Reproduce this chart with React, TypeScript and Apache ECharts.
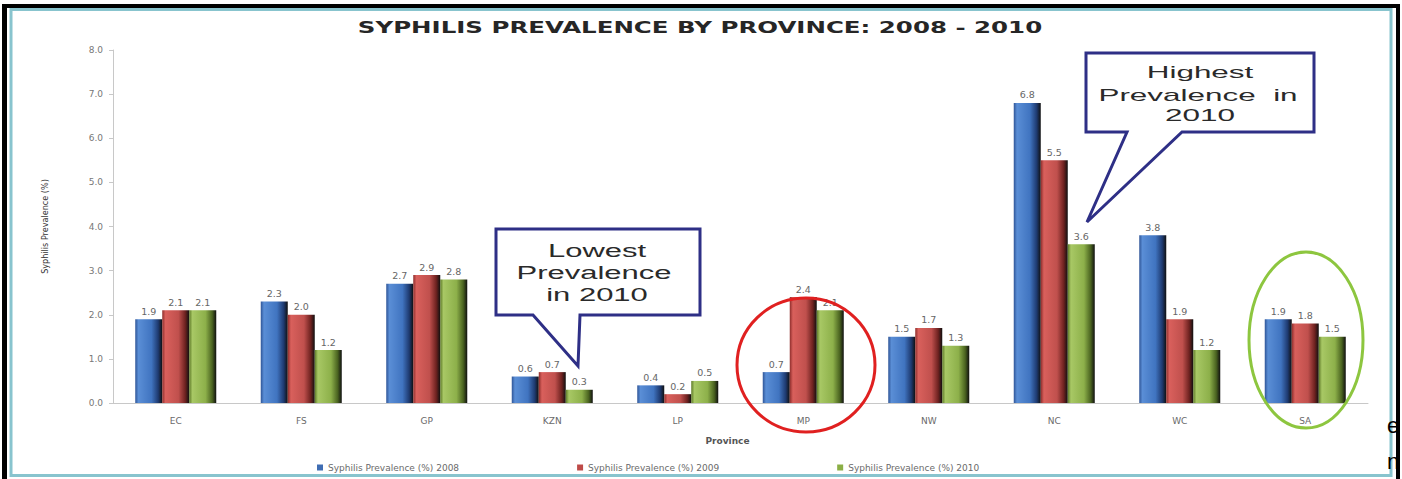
import React, { useEffect, useRef } from "react";
import * as echarts from "echarts";

const categories = ["EC", "FS", "GP", "KZN", "LP", "MP", "NW", "NC", "WC", "SA"];
const prevalence2008 = [1.9, 2.3, 2.7, 0.6, 0.4, 0.7, 1.5, 6.8, 3.8, 1.9];
const prevalence2009 = [2.1, 2.0, 2.9, 0.7, 0.2, 2.4, 1.7, 5.5, 1.9, 1.8];
const prevalence2010 = [2.1, 1.2, 2.8, 0.3, 0.5, 2.1, 1.3, 3.6, 1.2, 1.5];
const seriesNames = [
  "Syphilis Prevalence (%) 2008",
  "Syphilis Prevalence (%) 2009",
  "Syphilis Prevalence (%) 2010",
];
const titleText = "SYPHILIS PREVALENCE BY PROVINCE: 2008 - 2010";
const lowestLines = ["Lowest", "Prevalence", "in 2010"];
const highestLines = ["Highest", "Prevalence  in", "2010"];

const solidColors = ["#3F6DB3", "#BE4B48", "#8BAF45"];

function cyl(edge: string, light: string, main: string, dark: string) {
  return new echarts.graphic.LinearGradient(0, 0, 1, 0, [
    { offset: 0, color: edge },
    { offset: 0.12, color: light },
    { offset: 0.6, color: main },
    { offset: 0.85, color: dark },
    { offset: 1, color: "#101010" },
  ]);
}

export default function App() {
  const ref = useRef<HTMLDivElement>(null);
  useEffect(() => {
    document.body.style.margin = "0";
    if (!ref.current) return;
    const chart = echarts.init(ref.current, undefined, { renderer: "svg" });
    const colors = [
      cyl("#2F5597", "#5A8ED6", "#4074C0", "#1E3A70"),
      cyl("#8E2E2C", "#D9605C", "#C0504D", "#6E2220"),
      cyl("#5E7A28", "#A8C865", "#8DB04A", "#4A6320"),
    ];
    const data = [prevalence2008, prevalence2009, prevalence2010];
    const font = "DejaVu Sans";
    const textEl = (t: string, x: number, y: number, size: number, sx: number, extra: any = {}) => ({
      type: "text",
      x,
      y,
      scaleX: sx,
      z: 110,
      style: {
        text: t,
        fontSize: size,
        fontFamily: "Liberation Sans",
        fill: "#2a2a2a",
        align: "center",
        verticalAlign: "middle",
        ...extra,
      },
    });
    const option: any = {
      animation: false,
      backgroundColor: "#ffffff",
      grid: { left: 113, right: 34, top: 50, bottom: 76 },
      legend: {
        data: seriesNames.map((n, i) => ({ name: n, itemStyle: { color: solidColors[i] } })),
        left: 312,
        top: 458,
        icon: "rect",
        itemWidth: 6,
        itemHeight: 6,
        itemGap: 118,
        textStyle: { fontSize: 9, color: "#6a6a6a", fontFamily: font },
      },
      xAxis: {
        type: "category",
        data: categories,
        name: "Province",
        nameLocation: "middle",
        nameGap: 33,
        nameTextStyle: { fontSize: 9, fontWeight: "bold", color: "#555", fontFamily: font, padding: [0, 26, 0, 0] },
        axisLine: { lineStyle: { color: "#C8C8C8" } },
        axisTick: { show: false },
        axisLabel: { fontSize: 9, color: "#6a6a6a", fontFamily: font, margin: 13 },
      },
      yAxis: {
        type: "value",
        min: 0,
        max: 8,
        interval: 1,
        name: "Syphilis Prevalence (%)",
        nameLocation: "middle",
        nameGap: 64,
        nameTextStyle: { fontSize: 9, color: "#333", fontFamily: "DejaVu Sans Condensed" },
        axisLine: { show: true, lineStyle: { color: "#C8C8C8" } },
        axisTick: { show: true, length: 4, lineStyle: { color: "#C8C8C8" } },
        splitLine: { show: false },
        axisLabel: {
          fontSize: 9,
          color: "#777",
          fontFamily: font,
          margin: 10,
          formatter: (v: number) => v.toFixed(1),
        },
      },
      series: seriesNames.map((name, i) => ({
        name,
        type: "bar",
        data: data[i],
        barWidth: 27,
        barGap: "0%",
        itemStyle: { color: colors[i] },
        label: {
          show: true,
          position: "top",
          distance: 3,
          fontSize: 9.5,
          color: "#666",
          fontFamily: font,
          formatter: (p: any) => Number(p.value).toFixed(1),
        },
      })),
      graphic: [
        { type: "rect", z: 90, shape: { x: 2, y: 4, width: 5, height: 475 }, style: { fill: "#000" } },
        { type: "rect", z: 90, shape: { x: 2, y: 4, width: 1398, height: 4 }, style: { fill: "#000" } },
        { type: "rect", z: 90, shape: { x: 1396, y: 4, width: 4, height: 475 }, style: { fill: "#000" } },
        {
          type: "rect",
          z: 91,
          shape: { x: 11, y: 9.5, width: 1380, height: 466 },
          style: { fill: "none", stroke: "#88C4CE", lineWidth: 3 },
        },
        {
          type: "text",
          z: 95,
          x: 1387,
          y: 425,
          style: { text: "e", fontSize: 22, fontFamily: "Liberation Sans", fill: "#000", verticalAlign: "middle" },
        },
        {
          type: "text",
          z: 95,
          x: 1387,
          y: 461,
          style: { text: "n", fontSize: 22, fontFamily: "Liberation Sans", fill: "#000", verticalAlign: "middle" },
        },
        textEl(titleText, 700, 28, 16, 1.53, { fontFamily: "DejaVu Sans", fontWeight: "bold", fill: "#262626" }),
        {
          type: "polygon",
          z: 100,
          shape: {
            points: [
              [496, 229],
              [700, 229],
              [700, 315],
              [580, 315],
              [578, 366],
              [533, 315],
              [496, 315],
            ],
          },
          style: { fill: "#fff", stroke: "#2E2F86", lineWidth: 3 },
        },
        textEl(lowestLines[0], 597, 251, 18, 1.72),
        textEl(lowestLines[1], 594, 273, 18, 1.72),
        textEl(lowestLines[2], 597, 295, 18, 1.72),
        {
          type: "polygon",
          z: 100,
          shape: {
            points: [
              [1086, 53],
              [1314, 53],
              [1314, 132],
              [1182, 132],
              [1087, 222],
              [1127, 132],
              [1086, 132],
            ],
          },
          style: { fill: "#fff", stroke: "#2E2F86", lineWidth: 3 },
        },
        textEl(highestLines[0], 1200, 72, 17, 1.85),
        textEl(highestLines[1], 1198, 95, 17, 1.85),
        textEl(highestLines[2], 1200, 115, 17, 1.85),
        {
          type: "ellipse",
          z: 105,
          shape: { cx: 806, cy: 365, rx: 69, ry: 67 },
          style: { fill: "none", stroke: "#E02020", lineWidth: 3 },
        },
        {
          type: "ellipse",
          z: 105,
          shape: { cx: 1306, cy: 340, rx: 57, ry: 88 },
          style: { fill: "none", stroke: "#8DC63F", lineWidth: 3 },
        },
      ],
    };
    chart.setOption(option);
    return () => chart.dispose();
  }, []);
  return <div ref={ref} style={{ width: 1402, height: 479 }} />;
}
